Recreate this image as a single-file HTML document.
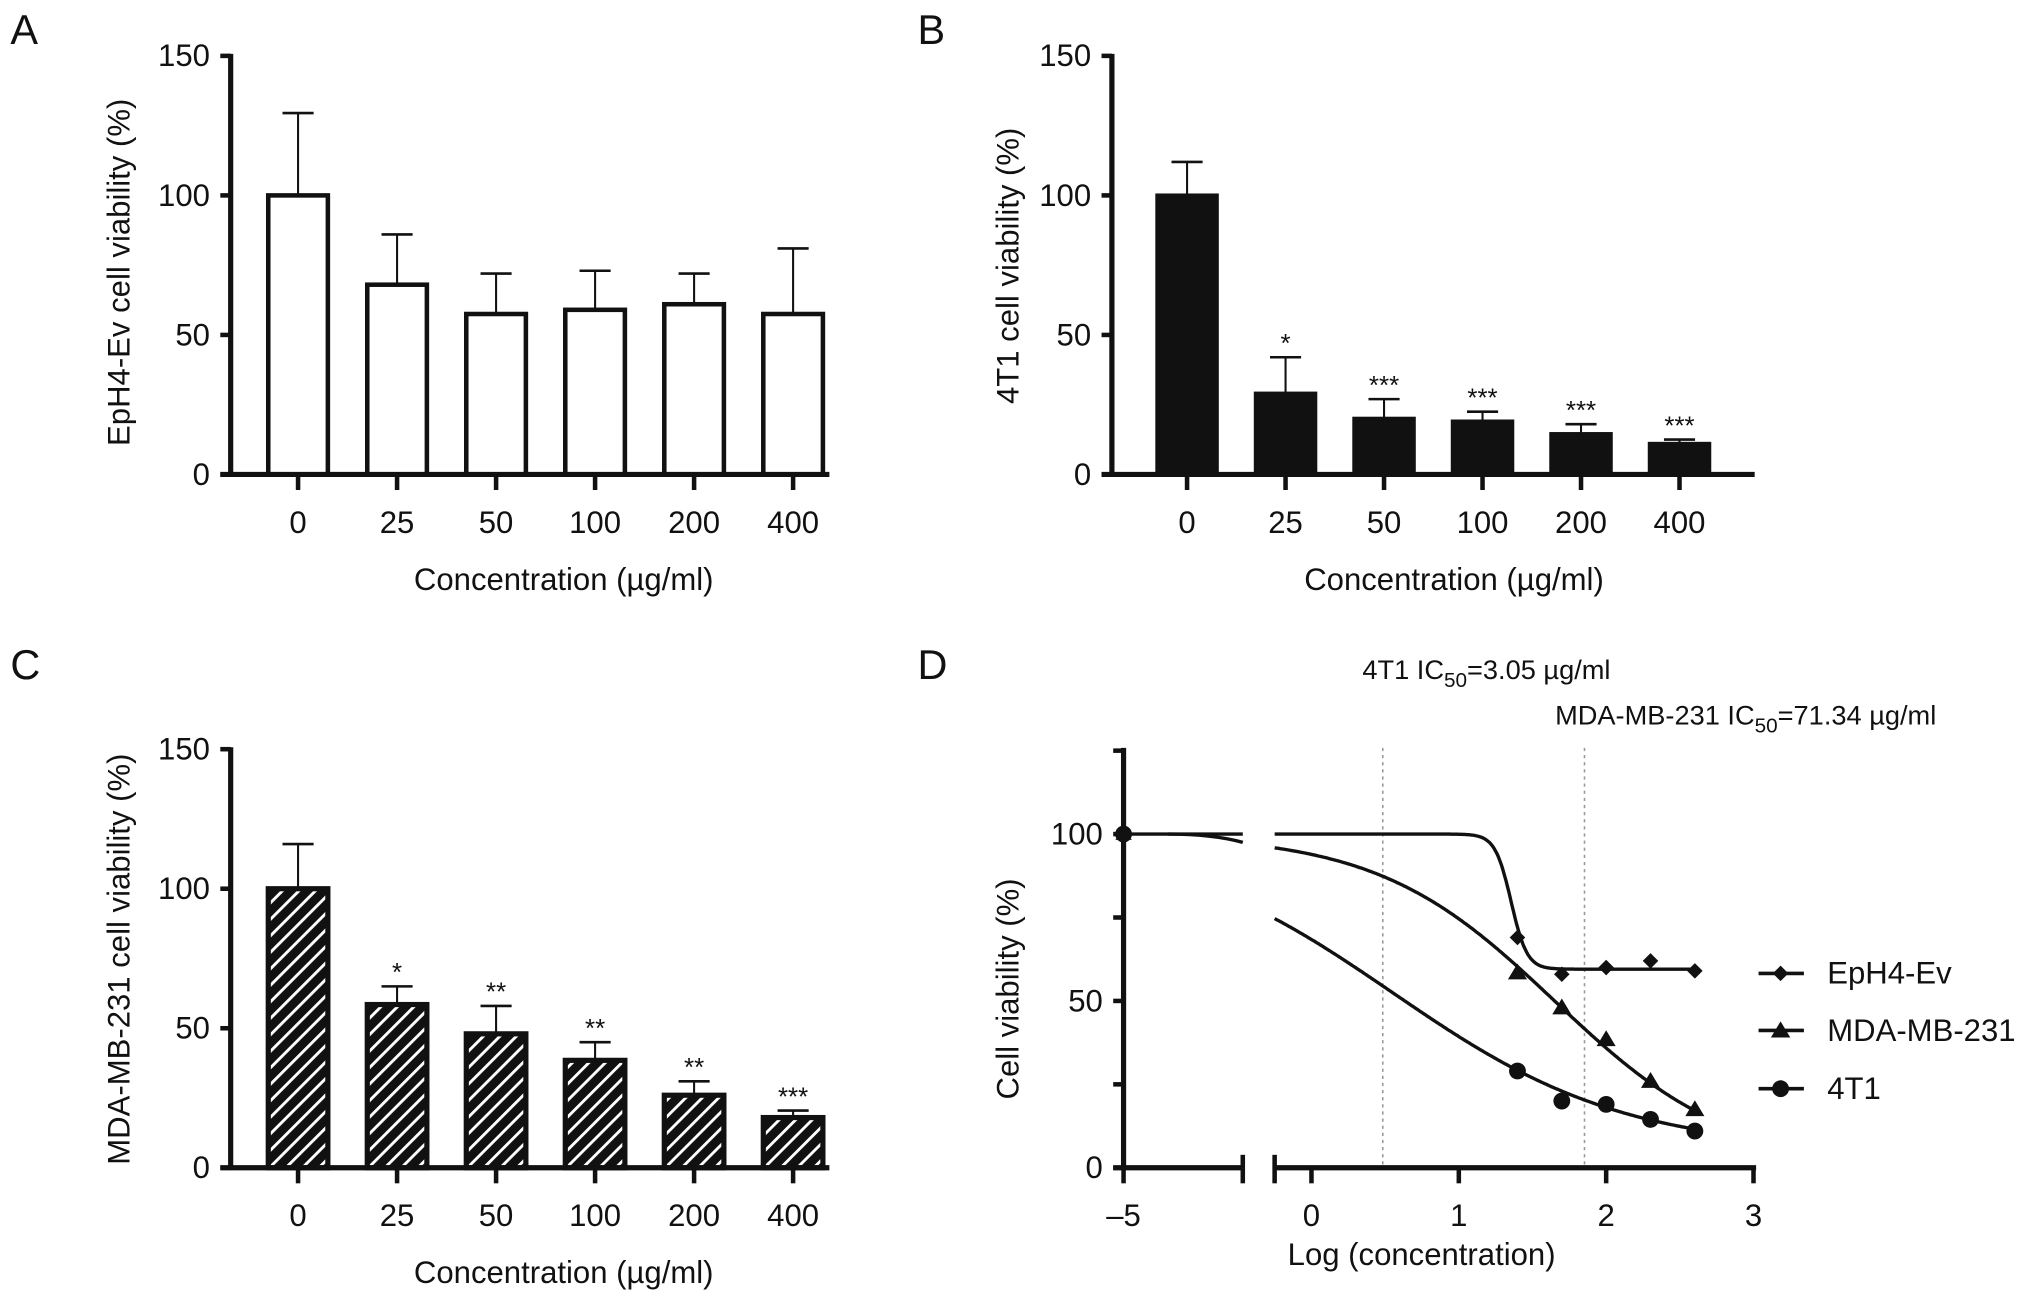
<!DOCTYPE html>
<html><head><meta charset="utf-8">
<style>
html,body{margin:0;padding:0;background:#fff;}
svg{display:block;}
text{font-family:"Liberation Sans",Arial,sans-serif;fill:#111;}
</style></head>
<body>
<svg id="fig" width="2032" height="1304" viewBox="0 0 1568 1006" xmlns="http://www.w3.org/2000/svg">
<defs>
<pattern id="hatch" patternUnits="userSpaceOnUse" width="9" height="9" patternTransform="rotate(45)">
<rect width="9" height="9" fill="#111"/>
<rect x="0" y="0" width="2.2" height="9" fill="#fff"/>
</pattern>
</defs>
<g id="root"></g>
</svg>
<script>
// ---- Data ----
const categories = ["0","25","50","100","200","400"];
const yTicksBar = [0,50,100,150];
const epMeans = [100,68,57.5,59,61,57.5];
const epErr = [129.5,86,72,73,72,81];
const t1Means = [100,29,20,19,14.5,11];
const t1Err = [112,42,27,22.5,18,12.5];
const t1Stars = ["","*","***","***","***","***"];
const mdaMeans = [100,58.5,48,38.5,26,18];
const mdaErr = [116,65,58,45,31,20.5];
const mdaStars = ["","*","**","**","**","***"];
// Panel D
const logConc = [1.398,1.699,2,2.301,2.602];
const dEp = [69,58,60,62,59];
const dMda = [58.5,48,38.5,26,17.5];
const dT1 = [29,20,19,14.5,11];
const dCtrl = [100];
const dYTicks = [0,50,100];
const dYMinor = [25,75,125];
const dXTicks = [0,1,2,3];
const ic50Log = [0.484,1.853];
const legendNames = ["EpH4-Ev","MDA-MB-231","4T1"];

const NS="http://www.w3.org/2000/svg";
const root=document.getElementById('root');
const FS=24;
function mk(tag,attrs,parent){const e=document.createElementNS(NS,tag);for(const k in attrs)e.setAttribute(k,attrs[k]);(parent||root).appendChild(e);return e;}
function txt(s,x,y,size,anchor,parent){const t=mk('text',{x:x,y:y,'font-size':size,'text-anchor':anchor||'middle'},parent);t.textContent=s;return t;}

function barPanel(opt){
  const g=mk('g',{});
  
  
  const ax=opt.ax, y0=opt.y0, y150=opt.y150;
  const sy=v=>y0-(y0-y150)*v/150;
  const sx=i=>opt.x0+i*opt.step;
  const L=txt(opt.letter,opt.letterX,opt.letterY,32,'start',g);
  
  
  opt.means.forEach((m,i)=>{
    const cx=sx(i),w=46;
    const eb=mk('line',{x1:cx,x2:cx,y1:sy(m),y2:sy(opt.err[i]),stroke:'#111','stroke-width':1.6},g);
    
    
    const cap=mk('line',{x1:cx-12,x2:cx+12,y1:sy(opt.err[i]),y2:sy(opt.err[i]),stroke:'#111','stroke-width':2},g);
    
    
    const r=mk('rect',{x:cx-w/2,y:sy(m),width:w,height:y0-sy(m),fill:opt.fill,stroke:'#111','stroke-width':opt.sw},g);
    
    
    if(opt.stars&&opt.stars[i]){
      const s=txt(opt.stars[i],cx,sy(opt.err[i])-4,20,'middle',g);
      
      
    }
    const tk=mk('line',{x1:cx,x2:cx,y1:y0,y2:y0+12,stroke:'#111','stroke-width':3.5},g);
    
    
    const tl=txt(categories[i],cx,y0+45,FS,'middle',g);
    
    
  });
  const ya=mk('line',{x1:ax,x2:ax,y1:y150-1.5,y2:y0+1.5,stroke:'#111','stroke-width':4},g);
  
  
  const xa=mk('line',{x1:ax-8,x2:opt.xEnd,y1:y0,y2:y0,stroke:'#111','stroke-width':4},g);
  
  
  yTicksBar.forEach(v=>{
    const t=mk('line',{x1:ax-8,x2:ax,y1:sy(v),y2:sy(v),stroke:'#111','stroke-width':3.5},g);
    
    
    const l=txt(String(v),ax-16,sy(v)+8,FS,'end',g);
    
    
  });
  const xt=txt('Concentration (µg/ml)',opt.xTitleX,y0+89,FS,'middle',g);
  
  
  const yt=txt(opt.yTitle,0,0,FS,'middle',g);
  yt.setAttribute('transform','translate('+opt.yTitleX+','+opt.yTitleY+') rotate(-90)');
  
  
}

barPanel({name:'panel-a-chart',letter:'A',letterX:8,letterY:34,ax:178,y0:366,y150:43,x0:230,step:76.4,xEnd:640,
  means:epMeans,err:epErr,fill:'#fff',sw:3.5,xTitleX:435,yTitle:'EpH4-Ev cell viability (%)',yTitleX:100,yTitleY:210});
barPanel({name:'panel-b-chart',letter:'B',letterX:708,letterY:34,ax:858,y0:366,y150:43,x0:916,step:76,xEnd:1354,
  means:t1Means,err:t1Err,stars:t1Stars,fill:'#111',sw:3,xTitleX:1122,yTitle:'4T1 cell viability (%)',yTitleX:786,yTitleY:205});
barPanel({name:'panel-c-chart',letter:'C',letterX:8,letterY:524,ax:178,y0:901,y150:578,x0:230,step:76.4,xEnd:640,
  means:mdaMeans,err:mdaErr,stars:mdaStars,fill:'url(#hatch)',sw:4,xTitleX:435,yTitle:'MDA-MB-231 cell viability (%)',yTitleX:100,yTitleY:740});

// ---- Panel D ----
(function(){
  const g=mk('g',{});
  
  
  const y0=901, y100=643.5, ax=867, xz=1012, ux=113.7;
  const sy=v=>y0-(y0-y100)*v/100;
  const sx=x=>xz+x*ux;
  const lx0=867, lx1=959;
  const sxl=x=>lx0+(x+5)/0.8*(lx1-lx0);
  const L=txt('D',708,524,32,'start',g);
  
  
  ic50Log.forEach((v,i)=>{
    const d=mk('line',{x1:sx(v),x2:sx(v),y1:577,y2:y0,stroke:'#999','stroke-width':1.2,'stroke-dasharray':'2.5,3'},g);
    
    
  });
  const fits=[
    {top:100,bot:59.5,ec:1.355,h:8},
    {top:100,bot:0,ec:1.65,h:0.72},
    {top:100,bot:5,ec:0.55,h:0.55}
  ];
  const f=(p,x)=>p.bot+(p.top-p.bot)/(1+Math.pow(10,(x-p.ec)*p.h));
  const names=['curve-eph4-ev','curve-mda-mb-231','curve-4t1'];
  fits.forEach((p,k)=>{
    let d='';
    for(let x=-0.25;x<=2.603;x+=0.01){d+=(d?'L':'M')+sx(x).toFixed(1)+','+sy(f(p,x)).toFixed(1);}
    const c=mk('path',{d:d,fill:'none',stroke:'#111','stroke-width':2.6},g);
    
    
  });
  const lc=mk('path',{d:'M'+sxl(-5)+','+sy(100)+'L'+sxl(-4.2)+','+sy(100),fill:'none',stroke:'#111','stroke-width':2.6},g);
  
  
  const lc2=mk('path',{d:'M'+sxl(-4.7)+','+sy(100)+'Q'+sxl(-4.4)+','+sy(100)+' '+sxl(-4.2)+','+sy(97.5),fill:'none',stroke:'#111','stroke-width':2.6},g);
  
  
  function diamond(x,y,r){return mk('path',{d:`M${x},${y-r}L${x+r},${y}L${x},${y+r}L${x-r},${y}Z`,fill:'#111'},g);}
  function tri(x,y,r){return mk('path',{d:`M${x},${y-r}L${x+r*1.05},${y+r*0.75}L${x-r*1.05},${y+r*0.75}Z`,fill:'#111'},g);}
  function circ(x,y,r){return mk('circle',{cx:x,cy:y,r:r,fill:'#111'},g);}
  logConc.forEach((x,i)=>{
    const a=diamond(sx(x),sy(dEp[i]),6);
    
    
    const b=tri(sx(x),sy(dMda[i]),7);
    
    
    const c=circ(sx(x),sy(dT1[i]),6.5);
    
    
  });
  const c0=circ(sxl(-5),sy(dCtrl[0]),6.5);
  
  
  const t0=tri(sxl(-5),sy(dCtrl[0]),6);
  
  
  const ya=mk('line',{x1:ax,x2:ax,y1:577,y2:y0+1.5,stroke:'#111','stroke-width':4},g);
  
  
  const xa1=mk('line',{x1:ax-8,x2:lx1,y1:y0,y2:y0,stroke:'#111','stroke-width':4},g);
  
  
  const xa2=mk('line',{x1:sx(-0.25),x2:sx(3)+2,y1:y0,y2:y0,stroke:'#111','stroke-width':4},g);
  
  
  [lx1,sx(-0.25)].forEach(x=>{
    const b=mk('line',{x1:x,x2:x,y1:y0-10,y2:y0+12,stroke:'#111','stroke-width':3.5},g);
    
    
  });
  const tm=mk('line',{x1:ax,x2:ax,y1:y0,y2:y0+12,stroke:'#111','stroke-width':3.5},g);
  
  
  const tl5=txt('–5',ax,y0+45,FS,'middle',g);
  
  
  dXTicks.forEach(v=>{
    const t=mk('line',{x1:sx(v),x2:sx(v),y1:y0,y2:y0+12,stroke:'#111','stroke-width':3.5},g);
    
    
    const l=txt(String(v),sx(v),y0+45,FS,'middle',g);
    
    
  });
  dYTicks.forEach(v=>{
    const t=mk('line',{x1:ax-8,x2:ax,y1:sy(v),y2:sy(v),stroke:'#111','stroke-width':3.5},g);
    
    
    const l=txt(String(v),ax-16,sy(v)+8,FS,'end',g);
    
    
  });
  dYMinor.forEach(v=>{
    const t=mk('line',{x1:ax-8,x2:ax,y1:sy(v),y2:sy(v),stroke:'#111','stroke-width':3.5},g);
    
    
  });
  const xt=txt('Log (concentration)',1097,y0+75,FS,'middle',g);
  
  
  const yt=txt('Cell viability (%)',0,0,FS,'middle',g);
  yt.setAttribute('transform','translate(786,763) rotate(-90)');
  
  
  const a1=mk('text',{x:1147,y:524,'font-size':21,'text-anchor':'middle'},g);
  a1.innerHTML='4T1 IC<tspan font-size="16" dy="6">50</tspan><tspan dy="-6">=3.05 µg/ml</tspan>';
  
  
  const a2=mk('text',{x:1200,y:559,'font-size':21,'text-anchor':'start'},g);
  a2.innerHTML='MDA-MB-231 IC<tspan font-size="16" dy="6">50</tspan><tspan dy="-6">=71.34 µg/ml</tspan>';
  
  
  const ly=[751,795,840];
  legendNames.forEach((n,i)=>{
    const lg=mk('g',{},g);
    
    
    mk('line',{x1:1357,x2:1392,y1:ly[i],y2:ly[i],stroke:'#111','stroke-width':2.8},lg);
    const m=i===0?`M1374,${ly[i]-6}L1380,${ly[i]}L1374,${ly[i]+6}L1368,${ly[i]}Z`:
            i===1?`M1374,${ly[i]-7}L1381.5,${ly[i]+5.5}L1366.5,${ly[i]+5.5}Z`:null;
    if(m) mk('path',{d:m,fill:'#111'},lg); else mk('circle',{cx:1374,cy:ly[i],r:6.5,fill:'#111'},lg);
    txt(n,1410,ly[i]+8,FS,'start',lg);
  });
})();
</script>
</body></html>
